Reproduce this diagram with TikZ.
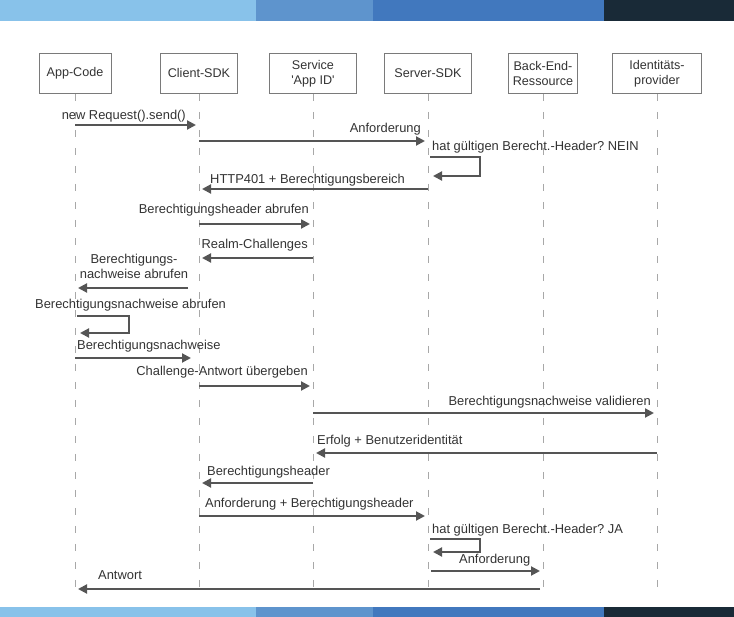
\documentclass[tikz,border=0pt]{standalone}
\usepackage{fontspec}
\setmainfont{Liberation Sans}[Ligatures=TeXOff]
\usetikzlibrary{arrows.meta}
\frenchspacing

\definecolor{barlight}{HTML}{88C2EA}
\definecolor{barmid}{HTML}{5E94CD}
\definecolor{barblue}{HTML}{4178BE}
\definecolor{bardark}{HTML}{192A37}
\definecolor{boxgray}{HTML}{7A7A7A}
\definecolor{lifegray}{HTML}{A8A8A8}
\definecolor{arrgray}{HTML}{555555}
\definecolor{txtgray}{HTML}{333333}

\begin{document}
\begin{tikzpicture}[x=1pt, y=-1pt,
	actor/.style={draw=boxgray, line width=0.8pt, minimum height=40pt, align=center,
		inner sep=2pt, text=txtgray, font=\fontsize{12.6}{15}\selectfont},
	lifeline/.style={draw=lifegray, line width=1pt, dash pattern=on 7pt off 11pt},
	msg/.style={draw=arrgray, line width=2pt, -{Triangle[length=9pt,width=9pt]},
		shorten >=3pt},
	lbl/.style={inner sep=0pt, text=txtgray, align=center,
		font=\fontsize{12.9}{15}\selectfont}]

	\useasboundingbox (0,0) rectangle (734,617);

	% colour bars top and bottom
	\fill[barlight] (0,0) rectangle (256,21);
	\fill[barmid] (256,0) rectangle (373,21);
	\fill[barblue] (373,0) rectangle (604,21);
	\fill[bardark] (604,0) rectangle (734,21);
	\fill[barlight] (0,607) rectangle (256,617);
	\fill[barmid] (256,607) rectangle (373,617);
	\fill[barblue] (373,607) rectangle (604,617);
	\fill[bardark] (604,607) rectangle (734,617);

	% participants
	\node[actor, minimum width=72pt] (app) at (75,73.5) {App-Code};
	\node[actor, minimum width=77pt] (client) at (199,73.5) {Client-SDK};
	\node[actor, minimum width=87pt] (service) at (313,73.5) {Service\\'App ID'};
	\node[actor, minimum width=87pt] (server) at (428,73.5) {Server-SDK};
	\node[actor, minimum width=69pt] (backend) at (543,73.5) {Back-End-\\Ressource};
	\node[actor, minimum width=89pt] (idp) at (657,73.5) {Identitäts-\\provider};

	\foreach \p in {app,client,service,server,backend,idp}
		\draw[lifeline] (\p.south) -- (\p |- 0,597);

	% messages
	\draw[msg] (app |- 0,125) -- (client |- 0,125);
	\node[lbl, anchor=mid east] (l1) at (186,117) {new Request().send()};

	\draw[msg] (client |- 0,141) -- (server |- 0,141);
	\node[lbl, anchor=mid east] (l2) at (421,130) {Anforderung};

	\draw[msg] ([xshift=2pt]server |- 0,157) -- ++(50,0) |- ([xshift=2pt]server |- 0,176);
	\node[lbl, anchor=mid west] (l3) at (432,148) {hat gültigen Berecht.-Header? NEIN};

	\draw[msg] (server |- 0,189) -- (client |- 0,189);
	\node[lbl, anchor=mid west] (l4) at (210,181) {HTTP401 + Berechtigungsbereich};

	\draw[msg] (client |- 0,224) -- (service |- 0,224);
	\node[lbl, anchor=mid east] (l5) at (309,211) {Berechtigungsheader abrufen};

	\draw[msg] (service |- 0,258) -- (client |- 0,258);
	\node[lbl, anchor=mid east] (l6) at (308,246) {Realm-Challenges};

	\draw[msg, shorten <=11pt] (client |- 0,288) -- (app |- 0,288);
	\node[lbl] (l7) at (134,266.5) {Berechtigungs-\\nachweise abrufen};

	\draw[msg] ([xshift=2pt]app |- 0,316) -- ++(52,0) |- ([xshift=2pt]app |- 0,333);
	\node[lbl, anchor=mid west] (l8) at (35,306) {Berechtigungsnachweise abrufen};

	\draw[msg, shorten >=8pt] (app |- 0,358) -- (client |- 0,358);
	\node[lbl, anchor=mid west] (l9) at (77,347) {Berechtigungsnachweise};

	\draw[msg] (client |- 0,386) -- (service |- 0,386);
	\node[lbl, anchor=mid east] (l10) at (308,373) {Challenge-Antwort übergeben};

	\draw[msg] (service |- 0,413) -- (idp |- 0,413);
	\node[lbl, anchor=mid east] (l11) at (651,403) {Berechtigungsnachweise validieren};

	\draw[msg] (idp |- 0,453) -- (service |- 0,453);
	\node[lbl, anchor=mid west] (l12) at (317,442) {Erfolg + Benutzeridentität};

	\draw[msg] (service |- 0,483) -- (client |- 0,483);
	\node[lbl, anchor=mid west] (l13) at (207,473) {Berechtigungsheader};

	\draw[msg] (client |- 0,516) -- (server |- 0,516);
	\node[lbl, anchor=mid west] (l14) at (205,505) {Anforderung + Berechtigungsheader};

	\draw[msg] ([xshift=2pt]server |- 0,539) -- ++(50,0) |- ([xshift=2pt]server |- 0,552);
	\node[lbl, anchor=mid west] (l15) at (432,531) {hat gültigen Berecht.-Header? JA};

	\draw[msg] ([xshift=3pt]server |- 0,571) -- (backend |- 0,571);
	\node[lbl, anchor=mid west] (l16) at (459,561) {Anforderung};

	\draw[msg, shorten <=3pt] (backend |- 0,589) -- (app |- 0,589);
	\node[lbl, anchor=mid west] (l17) at (98,577) {Antwort};

\end{tikzpicture}
\end{document}
